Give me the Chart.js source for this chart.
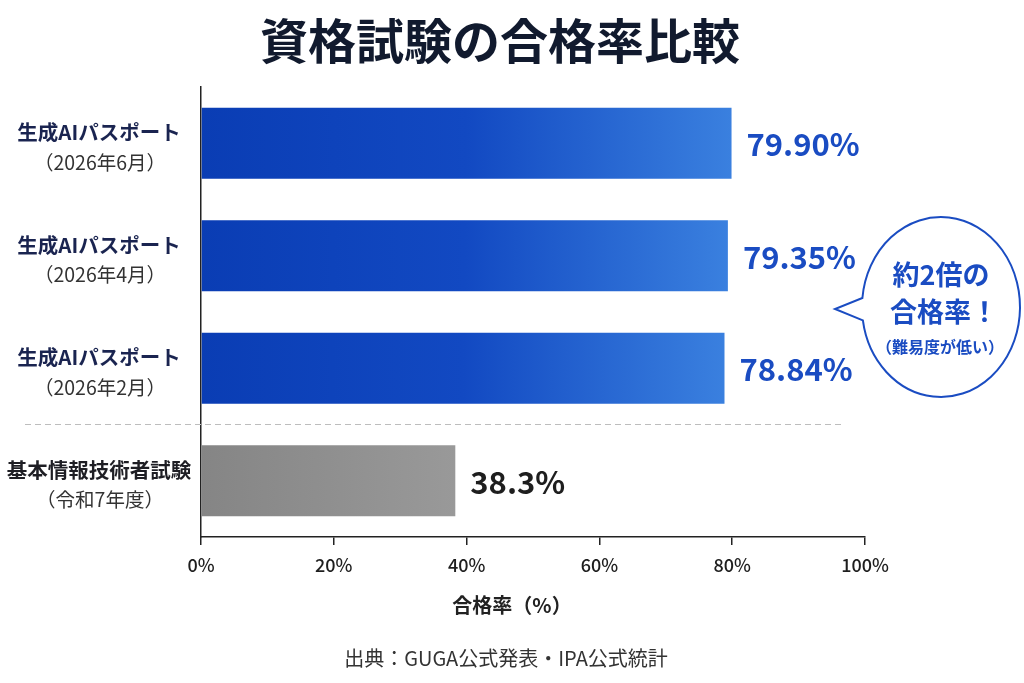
<!DOCTYPE html>
<html>
<head>
<meta charset="utf-8">
<script src="https://cdn.jsdelivr.net/npm/chart.js@4"></script>
<style>
  html, body { margin: 0; padding: 0; background: #fff; }
  #wrap { width: 1024px; height: 683px; }
</style>
</head>
<body>
<div id="wrap"><canvas id="myChart" width="1024" height="683"></canvas></div>
<script>
const categories = ['生成AIパスポート', '生成AIパスポート', '生成AIパスポート', '基本情報技術者試験'];
const subLabels = ['（2026年6月）', '（2026年4月）', '（2026年2月）', '（令和7年度）'];
const passRates = [79.90, 79.35, 78.84, 38.3];
const rateLabels = ['79.90%', '79.35%', '78.84%', '38.3%'];
const xTicks = [0, 20, 40, 60, 80, 100];

const FONT = '"Noto Sans CJK JP", "Noto Sans", sans-serif';
const BLUE = '#1a4cc2';

// bar gradient, dark blue -> light blue (grey for the last one)
function barColor(c) {
    const chart = c.chart;
    if (!chart.chartArea || c.raw === undefined) return BLUE;
    const x = chart.scales.x;
    const x0 = x.getPixelForValue(0);
    const x1 = x.getPixelForValue(c.raw);
    const g = chart.ctx.createLinearGradient(x0, 0, x1, 0);
    if (c.dataIndex === 3) {
        g.addColorStop(0, '#858585');
        g.addColorStop(1, '#999999');
    } else {
        g.addColorStop(0, '#0a3db4');
        g.addColorStop(0.5, '#1249c2');
        g.addColorStop(1, '#3a80df');
    }
    return g;
}

const extras = {
    id: 'extras',
    afterDraw(chart) {
        const ctx = chart.ctx;
        const y = chart.scales.y;
        ctx.save();
        ctx.textAlign = 'center';
        ctx.textBaseline = 'middle';

        // title, axis title and source, centred on the page
        ctx.fillStyle = '#111a2e';
        ctx.font = 'bold 48px ' + FONT;
        ctx.fillText('資格試験の合格率比較', 500, 41);
        ctx.fillStyle = '#222';
        ctx.font = 'bold 20px ' + FONT;
        ctx.fillText('合格率（%）', 512, 605);
        ctx.fillStyle = '#333';
        ctx.font = '20px ' + FONT;
        ctx.fillText('出典：GUGA公式発表・IPA公式統計', 506, 658);

        // y labels (two lines)
        chart.data.labels.forEach((lab, i) => {
            const py = y.getPixelForValue(i);
            ctx.font = 'bold 20.5px ' + FONT;
            ctx.fillStyle = i === 3 ? '#1e1e24' : '#1a2450';
            ctx.fillText(lab[0], 99, py - 11);
            ctx.font = '19.5px ' + FONT;
            ctx.fillStyle = '#333';
            ctx.fillText(lab[1], 100, py + 19);
        });

        // dashed separator between the AI passport rows and the last row
        const sepY = (y.getPixelForValue(2) + y.getPixelForValue(3)) / 2;
        ctx.strokeStyle = '#bdbdbd';
        ctx.lineWidth = 1.2;
        ctx.setLineDash([6, 4]);
        ctx.beginPath();
        ctx.moveTo(25, sepY);
        ctx.lineTo(842, sepY);
        ctx.stroke();
        ctx.setLineDash([]);

        // value labels
        const meta = chart.getDatasetMeta(0);
        ctx.textAlign = 'left';
        ctx.font = 'bold 31px ' + FONT;
        meta.data.forEach((bar, i) => {
            ctx.fillStyle = i === 3 ? '#1e1e1e' : BLUE;
            ctx.fillText(rateLabels[i], bar.x + 15, bar.y + 1);
        });

        // speech bubble
        const cx = 941, cy = 307, rx = 79, ry = 90;
        ctx.beginPath();
        ctx.ellipse(cx, cy, rx, ry, 0, Math.PI + 0.1, 3 * Math.PI - 0.15);
        ctx.lineTo(835, 309);
        ctx.closePath();
        ctx.fillStyle = '#fff';
        ctx.fill();
        ctx.strokeStyle = BLUE;
        ctx.lineWidth = 2;
        ctx.stroke();

        ctx.textAlign = 'center';
        ctx.fillStyle = BLUE;
        ctx.font = 'bold 27px ' + FONT;
        ctx.fillText('約2倍の', cx, 275);
        ctx.fillText('合格率！', cx + 3, 312);
        ctx.font = 'bold 16px ' + FONT;
        ctx.fillText('（難易度が低い）', cx - 1, 347);

        ctx.restore();
    }
};

const ctx = document.getElementById('myChart').getContext('2d');
const myChart = new Chart(ctx, {
    type: 'bar',
    data: {
        labels: categories.map((c, i) => [c, subLabels[i]]),
        datasets: [{
            label: '合格率',
            data: passRates,
            backgroundColor: barColor,
            borderWidth: 0,
            barPercentage: 0.63,
            categoryPercentage: 1
        }]
    },
    options: {
        indexAxis: 'y',
        responsive: false,
        animation: false,
        layout: { padding: { left: 0, right: 159, top: 87, bottom: 106 } },
        plugins: {
            legend: { display: false },
            tooltip: { enabled: false }
        },
        scales: {
            x: {
                min: 0,
                max: 100,
                afterBuildTicks: (scale) => { scale.ticks = xTicks.map(v => ({ value: v })); },
                grid: { drawOnChartArea: false, drawTicks: true, tickLength: 8, color: '#222', lineWidth: 1.5 },
                border: { display: true, color: '#222', width: 1.5 },
                ticks: {
                    padding: 9,
                    color: '#1e1e1e',
                    font: { family: FONT, size: 18, weight: '500', lineHeight: 1.2 },
                    callback: (v) => v + '%'
                },
                afterFit: (scale) => { scale.height = 40; }
            },
            y: {
                grid: { display: true, drawOnChartArea: false, drawTicks: false },
                border: { display: true, color: '#222', width: 1.5 },
                ticks: { display: false },
                afterFit: (scale) => { scale.width = 201; }
            }
        }
    },
    plugins: [extras]
});
</script>
</body>
</html>
